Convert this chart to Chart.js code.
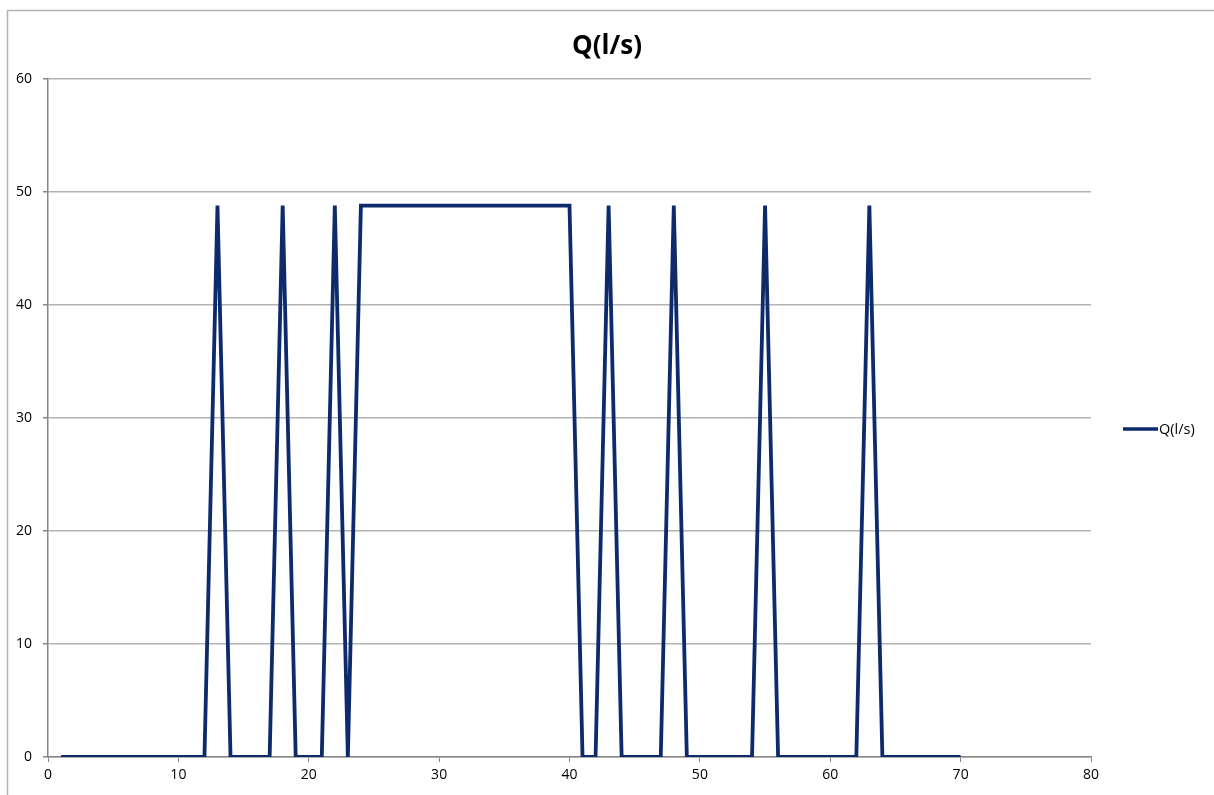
<!DOCTYPE html>
<html>
<head>
<meta charset="utf-8">
<title>Q(l/s)</title>
<script src="https://cdn.jsdelivr.net/npm/chart.js@4.4.1/dist/chart.umd.min.js"></script>
<style>
  html, body { margin: 0; padding: 0; background: #fff; }
  #wrap { width: 1214px; height: 795px; position: relative; }
</style>
</head>
<body>
<div id="wrap"><canvas id="grafico"></canvas></div>
<script>
// tempo (x) e vazão Q em l/s (y)
const tempo = [1, 2, 3, 4, 5, 6, 7, 8, 9, 10,
  11, 12, 13, 14, 15, 16, 17, 18, 19, 20,
  21, 22, 23, 24, 25, 26, 27, 28, 29, 30,
  31, 32, 33, 34, 35, 36, 37, 38, 39, 40,
  41, 42, 43, 44, 45, 46, 47, 48, 49, 50,
  51, 52, 53, 54, 55, 56, 57, 58, 59, 60,
  61, 62, 63, 64, 65, 66, 67, 68, 69, 70];
const vazao = [0, 0, 0, 0, 0, 0, 0, 0, 0, 0,
  0, 0, 48.8, 0, 0, 0, 0, 48.8, 0, 0,
  0, 48.8, 0, 48.8, 48.8, 48.8, 48.8, 48.8, 48.8, 48.8,
  48.8, 48.8, 48.8, 48.8, 48.8, 48.8, 48.8, 48.8, 48.8, 48.8,
  0, 0, 48.8, 0, 0, 0, 0, 48.8, 0, 0,
  0, 0, 0, 0, 48.8, 0, 0, 0, 0, 0,
  0, 0, 48.8, 0, 0, 0, 0, 0, 0, 0];
const serieNome = "Q(l/s)";
const tituloTexto = "Q(l/s)";
const xTicks = [0, 10, 20, 30, 40, 50, 60, 70, 80];
const yTicks = [0, 10, 20, 30, 40, 50, 60];

const corLinha = "#0c2a6c";
const corEixo = "#868686";
const corGrade = "#b3b3b3";
const fonte = "'Open Sans', 'DejaVu Sans', sans-serif";

const pontos = tempo.map((t, i) => ({ x: t, y: vazao[i] }));

// moldura externa + legenda desenhada à direita
const moldura = {
  id: "moldura",
  beforeDraw(chart) {
    const c = chart.ctx;
    c.save();
    c.strokeStyle = corGrade;
    c.lineWidth = 1.5;
    c.beginPath();
    c.moveTo(7.5, chart.height + 5);
    c.lineTo(7.5, 10.5);
    c.lineTo(chart.width + 5, 10.5);
    c.stroke();
    c.restore();
  },
  afterDraw(chart) {
    const c = chart.ctx;
    const ds = chart.data.datasets[0];
    const y = 429;
    c.save();
    c.strokeStyle = ds.borderColor;
    c.lineWidth = 3.5;
    c.beginPath();
    c.moveTo(1123, y);
    c.lineTo(1158, y);
    c.stroke();
    c.fillStyle = "#000";
    c.font = "14.5px " + fonte;
    c.textBaseline = "middle";
    c.fillText(ds.label, 1159, y + 1);
    c.restore();
  }
};

new Chart(document.getElementById("grafico"), {
  type: "scatter",
  data: {
    datasets: [{
      label: serieNome,
      data: pontos,
      yAxisID: "y",
      showLine: true,
      borderColor: corLinha,
      backgroundColor: corLinha,
      borderWidth: 3.8,
      borderJoinStyle: "miter",
      pointRadius: 0,
      tension: 0
    }]
  },
  options: {
    responsive: true,
    maintainAspectRatio: false,
    animation: false,
    layout: { padding: 0 },
    plugins: {
      legend: { display: false },
      tooltip: { enabled: false },
      title: {
        display: true,
        text: tituloTexto,
        color: "#000",
        font: { family: fonte, size: 26, weight: "bold", lineHeight: 1.2 },
        padding: { top: 31, bottom: 16.8 }
      }
    },
    scales: {
      x: {
        type: "linear",
        min: 0,
        max: 80,
        afterBuildTicks: s => { s.ticks = xTicks.map(v => ({ value: v })); },
        afterFit: s => { s.height = 38; },
        grid: { drawOnChartArea: false, drawTicks: true, tickLength: 5, color: corEixo, lineWidth: 1 },
        border: { color: corEixo, width: 1.5 },
        ticks: { color: "#000", padding: 5, maxRotation: 0, font: { family: fonte, size: 14 } }
      },
      y: {
        min: 0,
        max: 60,
        afterBuildTicks: s => { s.ticks = yTicks.map(v => ({ value: v })); },
        afterFit: s => { s.width = 48; },
        grid: { color: corGrade, lineWidth: 1.5, drawTicks: true, tickLength: 5, tickColor: corEixo },
        border: { color: corEixo, width: 1.5 },
        ticks: { color: "#000", padding: 11, font: { family: fonte, size: 14 } }
      },
      // eixo vazio à direita: reserva o espaço onde fica a legenda
      lado: {
        position: "right",
        min: 0,
        max: 60,
        afterFit: s => { s.width = 123; },
        grid: { drawOnChartArea: false, drawTicks: false },
        border: { display: false },
        ticks: { display: false }
      }
    }
  },
  plugins: [moldura]
});
</script>
</body>
</html>
